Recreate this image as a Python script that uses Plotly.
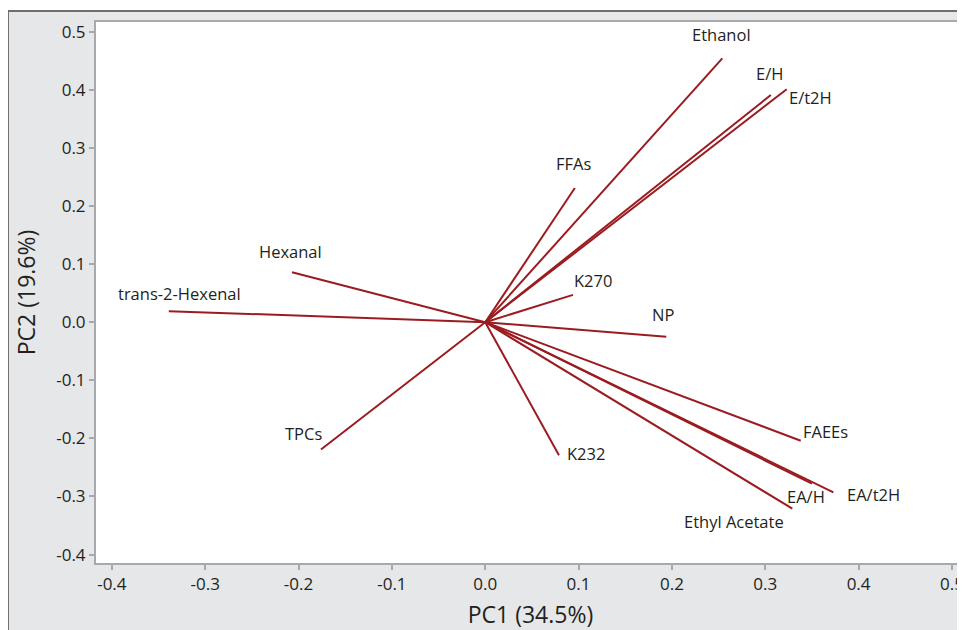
import plotly.graph_objects as go

# ---- data (loadings) ----
variables = ["Ethanol", "E/H", "E/t2H", "FFAs", "K270", "NP", "FAEEs", "EA/t2H",
             "EA/H", "Ethyl Acetate", "K232", "TPCs", "Hexanal", "trans-2-Hexenal"]
pc1 = [0.254, 0.306, 0.323, 0.096, 0.094, 0.194, 0.338, 0.373,
       0.350, 0.329, 0.079, -0.176, -0.207, -0.339]
pc2 = [0.454, 0.391, 0.401, 0.231, 0.047, -0.025, -0.204, -0.293,
       -0.278, -0.321, -0.229, -0.219, 0.086, 0.019]
x_ticks = [-0.4, -0.3, -0.2, -0.1, 0.0, 0.1, 0.2, 0.3, 0.4, 0.5]
y_ticks = [-0.4, -0.3, -0.2, -0.1, 0.0, 0.1, 0.2, 0.3, 0.4, 0.5]
x_title = "PC1 (34.5%)"
y_title = "PC2 (19.6%)"

# ---- label pixel offsets (style) ----
label_offsets = {
    "Ethanol": (-1, 24), "E/H": (-1, 22), "E/t2H": (24, -8), "FFAs": (-1, 24),
    "K270": (20, 14), "NP": (-3, 22), "FAEEs": (25, 9), "EA/t2H": (40, -2),
    "EA/H": (-6, -13), "Ethyl Acetate": (-58, -13), "K232": (27, 2),
    "TPCs": (-17, 16), "Hexanal": (-2, 21), "trans-2-Hexenal": (11, 18),
}

LINE = "#9b1c20"
TXT = "#231f20"
FONT = "Open Sans"

xs, ys = [], []
for a, b in zip(pc1, pc2):
    xs += [0, a, None]
    ys += [0, b, None]

fig = go.Figure()
fig.add_trace(go.Scatter(x=xs, y=ys, mode="lines",
                         line=dict(color=LINE, width=2), hoverinfo="skip",
                         showlegend=False))

for name, a, b in zip(variables, pc1, pc2):
    dx, dy = label_offsets[name]
    fig.add_annotation(x=a, y=b, text=name, showarrow=False,
                       xshift=dx, yshift=dy, xanchor="center", yanchor="middle",
                       font=dict(family=FONT, size=16.5, color=TXT))

# frame: grey surround with dark top/left border
fig.add_shape(type="rect", xref="paper", yref="paper",
              x0=-0.1013, x1=1.05, y0=-0.2, y1=1.0203,
              fillcolor="#e6e7e8", line=dict(width=0), layer="below")
fig.add_shape(type="rect", xref="paper", yref="paper",
              x0=0, x1=1, y0=0, y1=1,
              fillcolor="white", line=dict(width=0), layer="below")
fig.add_shape(type="line", xref="paper", yref="paper",
              x0=-0.1013, x1=1.05, y0=1.0203, y1=1.0203,
              line=dict(color="#6d6e70", width=2), layer="below")
fig.add_shape(type="line", xref="paper", yref="paper",
              x0=-0.1013, x1=-0.1013, y0=-0.2, y1=1.0203,
              line=dict(color="#6d6e70", width=2), layer="below")

axis_common = dict(showgrid=False, zeroline=False, showline=True,
                   linecolor="#a7a9ac", linewidth=2, mirror=True,
                   ticks="outside", ticklen=5, tickwidth=1.5, tickcolor="#a7a9ac",
                   automargin=False,
                   tickfont=dict(family=FONT, size=17, color=TXT))

fig.update_layout(
    width=957, height=622,
    margin=dict(l=88, r=0, t=14, b=67),
    paper_bgcolor="white", plot_bgcolor="white",
    xaxis=dict(range=[-0.417, 0.514], tickvals=x_ticks,
               ticktext=[f"{v:.1f}" for v in x_ticks],
               title=dict(text=x_title, font=dict(family=FONT, size=23, color=TXT),
                          standoff=15),
               **axis_common),
    yaxis=dict(range=[-0.4145, 0.5167], tickvals=y_ticks,
               ticktext=[f"{v:.1f}" for v in y_ticks],
               title=dict(text=y_title, font=dict(family=FONT, size=23, color=TXT),
                          standoff=14),
               **axis_common),
)

fig.write_html("out.html")
